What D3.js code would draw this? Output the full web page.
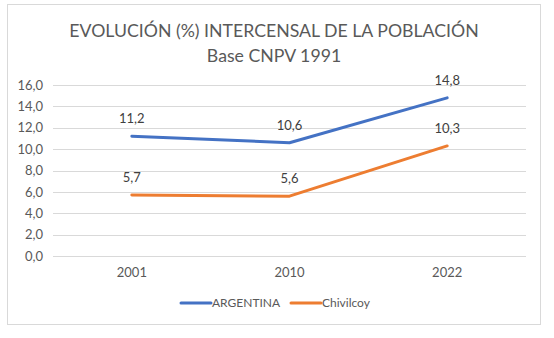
<!DOCTYPE html>
<html><head><meta charset="utf-8">
<script src="https://cdn.jsdelivr.net/npm/d3@7"></script>
<style>
html,body{margin:0;padding:0;background:#fff;}
text{font-family:Lato,"Open Sans",sans-serif;}
</style></head>
<body>
<svg id="c" width="554" height="338"></svg>
<script>
const years = ["2001","2010","2022"];
const argentina = [11.2,10.6,14.8];
const chivilcoy = [5.7,5.6,10.3];
const yTicks = [0,2,4,6,8,10,12,14,16];
const seriesNames = ["ARGENTINA","Chivilcoy"];
const colors = ["#4472C4","#ED7D31"];
const titleLines = ["EVOLUCIÓN (%) INTERCENSAL DE LA POBLACIÓN","Base CNPV 1991"];

(function(){
const svg = d3.select("#c");
svg.append("rect").attr("x",7.5).attr("y",4.5).attr("width",533).attr("height",320)
  .attr("fill","#fff").attr("stroke","#d9d9d9").attr("stroke-width",1);

const pl=53, pr=526, pt=85, pb=256;
const x = d3.scaleBand().domain(years).range([pl,pr]);
const y = d3.scaleLinear().domain([0,16]).range([pb,pt]);
const fmt = v => d3.format(".1f")(v).replace(".",",");

svg.append("g").selectAll("line").data(yTicks).join("line")
  .attr("x1",pl).attr("x2",pr)
  .attr("y1",d=>Math.round(y(d))+0.5).attr("y2",d=>Math.round(y(d))+0.5)
  .attr("stroke","#d9d9d9").attr("stroke-width",1);

const ya = svg.append("g").attr("transform",`translate(${pl-10},0)`)
  .call(d3.axisLeft(y).tickValues(yTicks).tickFormat(fmt).tickSize(0).tickPadding(0));
ya.select(".domain").remove();
ya.selectAll("text").attr("fill","#595959").attr("font-size","13px").attr("font-family","Lato,sans-serif");

const xa = svg.append("g").attr("transform",`translate(0,${pb+12})`)
  .call(d3.axisBottom(x).tickSize(0).tickPadding(0));
xa.select(".domain").remove();
xa.selectAll("text").attr("fill","#595959").attr("font-size","13px").attr("font-family","Lato,sans-serif");

svg.append("g").selectAll("text").data(titleLines).join("text")
  .attr("x",274).attr("y",(d,i)=>37+i*25).attr("text-anchor","middle")
  .attr("fill","#595959").attr("font-size","17.7px").text(d=>d);

const series = [argentina, chivilcoy];
const line = d3.line().x((d,i)=>x(years[i])+x.bandwidth()/2).y(d=>y(d));
series.forEach((s,k)=>{
  svg.append("path").datum(s).attr("d",line).attr("fill","none")
    .attr("stroke",colors[k]).attr("stroke-width",3).attr("stroke-linecap","round").attr("stroke-linejoin","round");
  svg.append("g").selectAll("text").data(s).join("text")
    .attr("x",(d,i)=>x(years[i])+x.bandwidth()/2).attr("y",d=>y(d)-13)
    .attr("text-anchor","middle").attr("fill","#404040").attr("font-size","13px").text(d=>fmt(d));
});

const lg = svg.append("g");
const legX = [181, 291];
seriesNames.forEach((n,k)=>{
  lg.append("line").attr("x1",legX[k]).attr("x2",legX[k]+30).attr("y1",303).attr("y2",303)
    .attr("stroke",colors[k]).attr("stroke-width",3).attr("stroke-linecap","round");
  lg.append("text").attr("x",legX[k]+31).attr("y",307).attr("fill","#595959").attr("font-size","12px").text(n);
});
})();
</script>
</body></html>
